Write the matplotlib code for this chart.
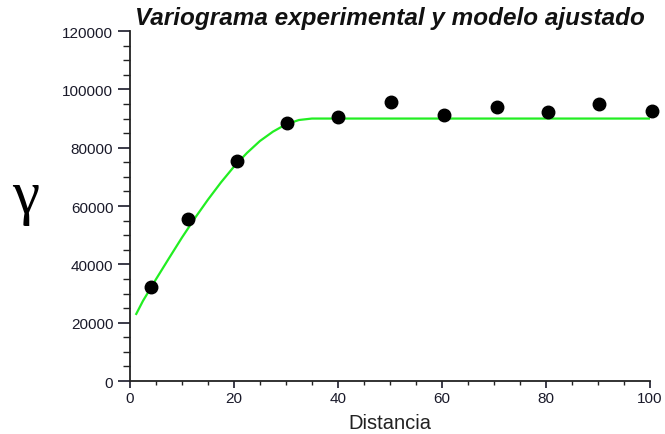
import matplotlib
matplotlib.use("Agg")
import matplotlib.pyplot as plt
from matplotlib.ticker import MultipleLocator

plt.rcParams['font.family'] = ['Liberation Sans', 'DejaVu Sans']

# semivariograma experimental
dist = [4.0, 11.2, 20.5, 30.3, 40.1, 50.2, 60.4, 70.6, 80.4, 90.2, 100.4]
gamma = [32200, 55500, 75400, 88500, 90500, 95700, 91200, 94000, 92200, 95000, 92600]

# modelo ajustado (puntos leidos sobre la curva verde)
model_x = [1.2, 2.5, 5, 7.5, 10, 12.5, 15, 17.5, 20, 22.5, 25, 27.5, 30, 32.5, 35, 40, 100]
model_y = [23000, 27500, 34900, 42100, 49200, 55900, 62200, 68100, 73500, 78200,
           82300, 85500, 88000, 89500, 90000, 90000, 90000]

fig = plt.figure(figsize=(6.65, 4.35), dpi=100)
ax = fig.add_axes([0.1955, 0.1218, 0.7815, 0.8045])

ax.plot(model_x, model_y, color='#22ee22', lw=1.6, zorder=2)
ax.plot(dist, gamma, 'o', color='black', ms=9, zorder=3, clip_on=False)

ax.set_xlim(0, 100)
ax.set_ylim(0, 120000)
ax.xaxis.set_major_locator(MultipleLocator(20))
ax.xaxis.set_minor_locator(MultipleLocator(5))
ax.yaxis.set_major_locator(MultipleLocator(20000))
ax.yaxis.set_minor_locator(MultipleLocator(5000))

for s in ['top', 'right']:
    ax.spines[s].set_visible(False)
for s in ['left', 'bottom']:
    ax.spines[s].set_linewidth(1.3)
    ax.spines[s].set_color('#222222')

ax.tick_params(axis='y', which='major', direction='out', length=9, width=1.2,
               labelsize=11, pad=3, colors='#1a1a2a')
ax.tick_params(axis='y', which='minor', direction='out', length=5, width=1.0,
               colors='#222222')
ax.tick_params(axis='x', which='major', direction='out', length=5, width=1.2,
               labelsize=11, pad=2, colors='#1a1a2a')
ax.tick_params(axis='x', which='minor', direction='out', length=3, width=1.0,
               colors='#222222')

ax.set_title('Variograma experimental y modelo ajustado', fontsize=17.5,
             fontweight='bold', fontstyle='italic', pad=5, color='#111111')
ax.set_xlabel('Distancia', fontsize=14.5, labelpad=6, color='#222222')
fig.text(0.038, 0.545, 'γ', fontsize=44, family='Liberation Serif',
         ha='center', va='center')

fig.savefig('out.png', dpi=100)
